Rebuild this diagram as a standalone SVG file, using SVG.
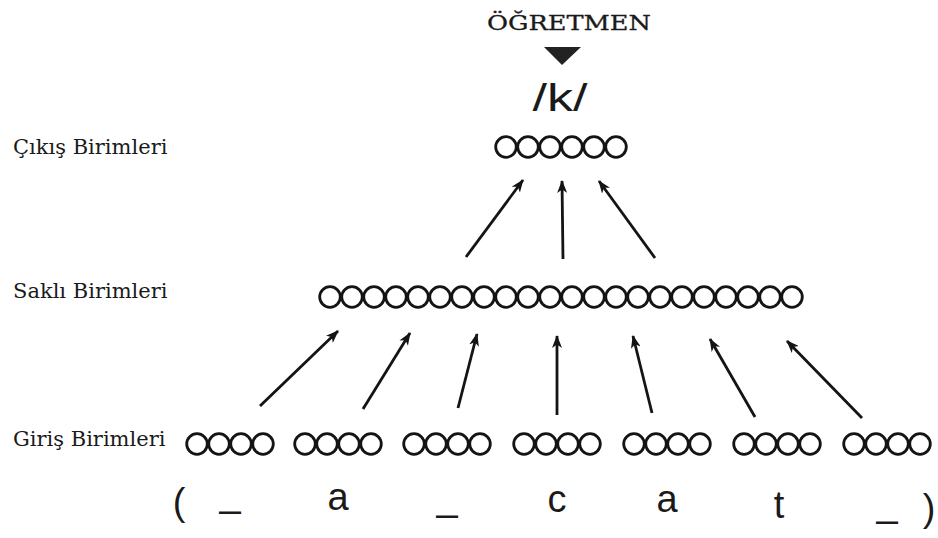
<svg xmlns="http://www.w3.org/2000/svg" width="938" height="538" viewBox="0 0 938 538">
<defs>
<style>
.u{fill:none;stroke:#141414;stroke-width:2.8}
.lbl{font-family:"DejaVu Serif","Liberation Serif",serif;font-size:21px;fill:#1a1a1a}
.sym{font-family:"Liberation Sans",Arial,sans-serif;font-size:38px;fill:#1a1a1a;text-anchor:middle}
.c{stroke:#141414;stroke-width:2.8;fill:none;marker-end:url(#ah)}
</style>
<marker id="ah" viewBox="0 0 13 10" refX="12" refY="5" markerWidth="13" markerHeight="10" markerUnits="userSpaceOnUse" orient="auto">
<path d="M0,0 L13,5 L0,10 L3.5,5 Z" fill="#141414"/>
</marker>
<circle id="u" r="10.3" class="u"/>
</defs>
<rect width="938" height="538" fill="#ffffff"/>

<g id="teacher">
<text x="569" y="30" class="lbl" text-anchor="middle" textLength="164" lengthAdjust="spacingAndGlyphs" style="font-size:21px;stroke:#1a1a1a;stroke-width:0.3">ÖĞRETMEN</text>
<path d="M544,47 L581,47 L562,65 Z" fill="#222"/>
<text x="560" y="111" class="sym" textLength="55" lengthAdjust="spacingAndGlyphs" style="font-size:39px">/k/</text>
</g>

<g id="labels">
<text x="13" y="154" class="lbl">Çıkış Birimleri</text>
<text x="13" y="298" class="lbl">Saklı Birimleri</text>
<text x="13" y="446" class="lbl">Giriş Birimleri</text>
</g>

<g id="output-units">
<use href="#u" x="506" y="147"/><use href="#u" x="528" y="147"/><use href="#u" x="550" y="147"/>
<use href="#u" x="572" y="147"/><use href="#u" x="594" y="147"/><use href="#u" x="616" y="147"/>
</g>

<g id="hidden-units">
<use href="#u" x="330" y="297"/><use href="#u" x="352" y="297"/><use href="#u" x="374" y="297"/><use href="#u" x="396" y="297"/>
<use href="#u" x="418" y="297"/><use href="#u" x="440" y="297"/><use href="#u" x="462" y="297"/><use href="#u" x="484" y="297"/>
<use href="#u" x="506" y="297"/><use href="#u" x="528" y="297"/><use href="#u" x="550" y="297"/><use href="#u" x="572" y="297"/>
<use href="#u" x="594" y="297"/><use href="#u" x="616" y="297"/><use href="#u" x="638" y="297"/><use href="#u" x="660" y="297"/>
<use href="#u" x="682" y="297"/><use href="#u" x="704" y="297"/><use href="#u" x="726" y="297"/><use href="#u" x="748" y="297"/>
<use href="#u" x="770" y="297"/><use href="#u" x="792" y="297"/>
</g>

<g id="input-1"><use href="#u" x="197" y="444"/><use href="#u" x="219" y="444"/><use href="#u" x="241" y="444"/><use href="#u" x="263" y="444"/></g>
<g id="input-2"><use href="#u" x="305" y="444"/><use href="#u" x="327" y="444"/><use href="#u" x="349" y="444"/><use href="#u" x="371" y="444"/></g>
<g id="input-3"><use href="#u" x="414" y="444"/><use href="#u" x="436" y="444"/><use href="#u" x="458" y="444"/><use href="#u" x="480" y="444"/></g>
<g id="input-4"><use href="#u" x="524" y="444"/><use href="#u" x="546" y="444"/><use href="#u" x="568" y="444"/><use href="#u" x="590" y="444"/></g>
<g id="input-5"><use href="#u" x="634" y="444"/><use href="#u" x="656" y="444"/><use href="#u" x="678" y="444"/><use href="#u" x="700" y="444"/></g>
<g id="input-6"><use href="#u" x="744" y="444"/><use href="#u" x="766" y="444"/><use href="#u" x="788" y="444"/><use href="#u" x="810" y="444"/></g>
<g id="input-7"><use href="#u" x="854" y="444"/><use href="#u" x="876" y="444"/><use href="#u" x="898" y="444"/><use href="#u" x="920" y="444"/></g>

<g id="input-symbols">
<text x="179" y="515" class="sym">(</text>
<text x="230" y="506" class="sym">_</text>
<text x="338" y="510" class="sym">a</text>
<text x="447" y="510" class="sym">_</text>
<text x="557" y="512" class="sym">c</text>
<text x="667" y="512" class="sym">a</text>
<text x="779" y="518" class="sym">t</text>
<text x="887" y="516" class="sym">_</text>
<text x="929" y="521" class="sym">)</text>
</g>

<g id="connectors">
<line x1="466" y1="257" x2="523" y2="180" class="c"/>
<line x1="563" y1="259" x2="562" y2="181" class="c"/>
<line x1="655" y1="258" x2="599" y2="181" class="c"/>
<line x1="260" y1="406" x2="338" y2="331" class="c"/>
<line x1="363" y1="409" x2="410" y2="333" class="c"/>
<line x1="458" y1="408" x2="477" y2="334" class="c"/>
<line x1="557" y1="415" x2="557" y2="336" class="c"/>
<line x1="652" y1="413" x2="633" y2="336" class="c"/>
<line x1="755" y1="417" x2="710" y2="339" class="c"/>
<line x1="862" y1="418" x2="787" y2="341" class="c"/>
</g>
</svg>
